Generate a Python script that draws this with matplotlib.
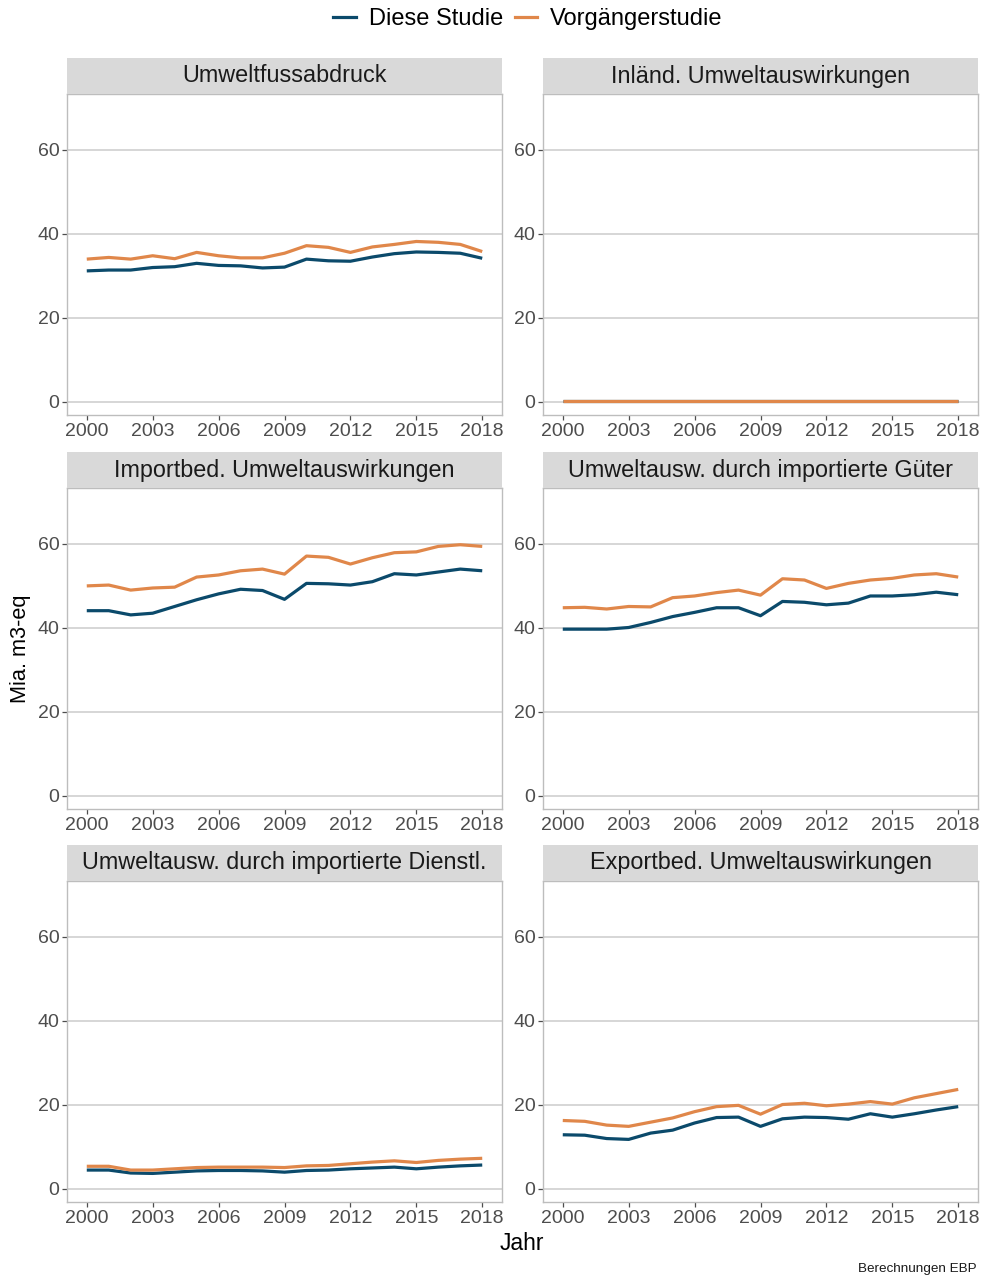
import matplotlib
matplotlib.use("Agg")
import matplotlib.pyplot as plt
from matplotlib.lines import Line2D

plt.rcParams['font.family'] = ['Liberation Sans', 'DejaVu Sans']

years = list(range(2000, 2019))

panel_titles = [
    "Umweltfussabdruck",
    "Inländ. Umweltauswirkungen",
    "Importbed. Umweltauswirkungen",
    "Umweltausw. durch importierte Güter",
    "Umweltausw. durch importierte Dienstl.",
    "Exportbed. Umweltauswirkungen",
]

diese_fussabdruck = [31.2, 31.4, 31.4, 32.0, 32.2, 33.0, 32.5, 32.4, 31.9, 32.1,
                     34.0, 33.6, 33.5, 34.5, 35.3, 35.7, 35.6, 35.4, 34.2]
vorg_fussabdruck = [34.0, 34.4, 34.0, 34.8, 34.1, 35.6, 34.8, 34.3, 34.3, 35.4,
                    37.2, 36.8, 35.6, 36.9, 37.5, 38.2, 38.0, 37.5, 35.8]

diese_inland = [0.3, 0.3, 0.3, 0.3, 0.3, 0.3, 0.3, 0.3, 0.3, 0.3,
                0.3, 0.3, 0.3, 0.3, 0.3, 0.3, 0.3, 0.3, 0.3]
vorg_inland = [0.3, 0.3, 0.3, 0.3, 0.3, 0.3, 0.3, 0.3, 0.3, 0.3,
               0.3, 0.3, 0.3, 0.3, 0.3, 0.3, 0.3, 0.3, 0.3]

diese_import = [44.1, 44.1, 43.1, 43.5, 45.1, 46.7, 48.1, 49.2, 48.9, 46.8,
                50.6, 50.5, 50.2, 51.0, 52.9, 52.6, 53.3, 54.0, 53.6]
vorg_import = [50.0, 50.2, 49.0, 49.5, 49.7, 52.1, 52.6, 53.6, 54.0, 52.8,
               57.1, 56.8, 55.2, 56.7, 57.9, 58.1, 59.4, 59.8, 59.4]

diese_gueter = [39.7, 39.7, 39.7, 40.1, 41.3, 42.7, 43.7, 44.8, 44.8, 42.9,
                46.3, 46.1, 45.5, 45.9, 47.6, 47.6, 47.9, 48.5, 47.9]
vorg_gueter = [44.8, 44.9, 44.5, 45.1, 45.0, 47.2, 47.6, 48.4, 49.0, 47.8,
               51.7, 51.4, 49.4, 50.6, 51.4, 51.8, 52.6, 52.9, 52.1]

diese_dienstl = [4.5, 4.5, 3.8, 3.7, 4.0, 4.3, 4.4, 4.4, 4.3, 4.0,
                 4.4, 4.5, 4.8, 5.0, 5.2, 4.8, 5.2, 5.5, 5.7]
vorg_dienstl = [5.4, 5.4, 4.5, 4.5, 4.8, 5.1, 5.2, 5.2, 5.2, 5.1,
                5.5, 5.6, 6.0, 6.4, 6.7, 6.3, 6.8, 7.1, 7.3]

diese_export = [12.9, 12.8, 12.0, 11.8, 13.3, 14.0, 15.7, 17.0, 17.1, 14.9,
                16.7, 17.1, 17.0, 16.6, 17.9, 17.1, 17.9, 18.8, 19.6]
vorg_export = [16.3, 16.1, 15.2, 14.9, 15.9, 16.9, 18.4, 19.6, 19.9, 17.8,
               20.1, 20.4, 19.8, 20.2, 20.8, 20.2, 21.7, 22.7, 23.7]

series_diese = [diese_fussabdruck, diese_inland, diese_import,
                diese_gueter, diese_dienstl, diese_export]
series_vorg = [vorg_fussabdruck, vorg_inland, vorg_import,
               vorg_gueter, vorg_dienstl, vorg_export]

legend_labels = ["Diese Studie", "Vorgängerstudie"]
x_ticks = [2000, 2003, 2006, 2009, 2012, 2015, 2018]
y_ticks = [0, 20, 40, 60]

C_BLUE = "#0b4a6b"
C_ORANGE = "#e0874a"
GRID = "#cccccc"
BORDER = "#bdbdbd"
STRIP = "#d9d9d9"
TICKC = "#4d4d4d"

W, H = 984, 1281
fig = plt.figure(figsize=(W / 100, H / 100), dpi=100)

col_x = [67, 543]
panel_w = 435
rows_top = [94, 488, 881]  # panel top (strip bottom)
panel_h = 321
strip_h = 36

def fx(px):
    return px / W

def fy(py):
    return 1 - py / H

for i in range(6):
    r, c = divmod(i, 2)
    x0 = col_x[c]
    top = rows_top[r]
    ax = fig.add_axes([fx(x0), fy(top + panel_h), panel_w / W, panel_h / H])
    ax.plot(years, series_diese[i], color=C_BLUE, lw=2.3, solid_capstyle='butt', zorder=3)
    ax.plot(years, series_vorg[i], color=C_ORANGE, lw=2.3, solid_capstyle='butt', zorder=3)
    ax.set_xlim(1999.1, 2018.9)
    ax.set_ylim(-3.1, 73.3)
    ax.set_xticks(x_ticks)
    ax.set_yticks(y_ticks)
    ax.tick_params(axis='both', colors=TICKC, labelcolor=TICKC, labelsize=14,
                   length=3.5, width=0.9, pad=2)
    ax.yaxis.grid(True, color=GRID, lw=1.1)
    ax.xaxis.grid(False)
    ax.set_axisbelow(True)
    for sp in ax.spines.values():
        sp.set_color(BORDER)
        sp.set_linewidth(1.0)
    # strip
    sax = fig.add_axes([fx(x0), fy(top), panel_w / W, strip_h / H])
    sax.set_facecolor(STRIP)
    sax.set_xticks([])
    sax.set_yticks([])
    for sp in sax.spines.values():
        sp.set_visible(False)
    sax.text(0.5, 0.5, panel_titles[i], ha='center', va='center',
             fontsize=16.8, color='#1a1a1a', transform=sax.transAxes)

# axis titles
fig.text(fx(21), fy(649), "Mia. m3-eq", rotation=90, ha='center', va='center',
         fontsize=15.7, color='black')
fig.text(fx(522), fy(1244), "Jahr", ha='center', va='center', fontsize=16.5, color='black')
fig.text(fx(977), fy(1269), "Berechnungen EBP", ha='right', va='center', fontsize=9.7,
         color='#1a1a1a')

# legend
handles = [Line2D([0], [0], color=C_BLUE, lw=2.3),
           Line2D([0], [0], color=C_ORANGE, lw=2.3)]
fig.legend(handles, legend_labels, loc='center', bbox_to_anchor=(fx(528), fy(19)),
           ncol=2, frameon=False, fontsize=17, handlelength=0.95, handletextpad=0.55,
           columnspacing=0.5)

fig.savefig("out.png", dpi=100)
